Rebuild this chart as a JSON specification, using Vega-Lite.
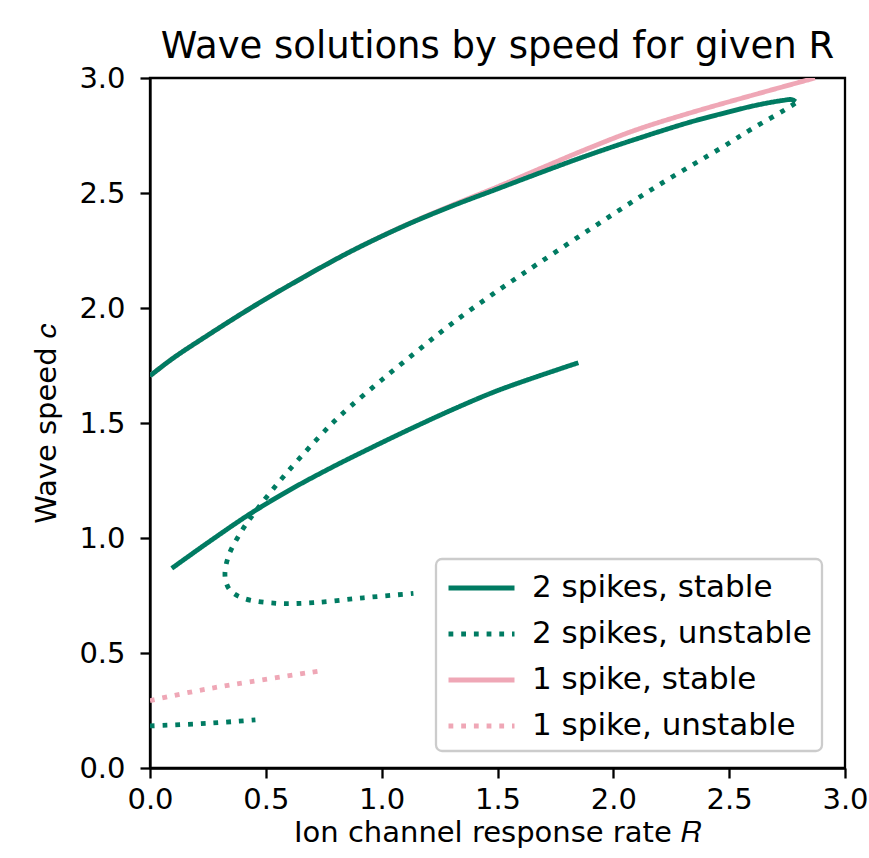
{
  "$schema": "https://vega.github.io/schema/vega-lite/v6.json",
  "width": 695,
  "height": 690,
  "autosize": {"type": "none"},
  "padding": {"left": 150, "top": 78, "right": 24, "bottom": 90},
  "title": {"text": "Wave solutions by speed for given R", "fontSize": 37, "font": "DejaVu Sans", "fontWeight": "normal", "color": "black", "offset": -2},
  "config": {
    "font": "DejaVu Sans",
    "view": {"stroke": "black", "strokeWidth": 2.3},
    "axis": {"grid": false, "domainColor": "black", "domainWidth": 2.3, "tickColor": "black", "tickWidth": 2.3, "tickSize": 10, "labelColor": "black", "labelFontSize": 29, "labelFont": "DejaVu Sans", "titleFont": "DejaVu Sans", "titleFontSize": 29, "titleFontWeight": "normal", "titleColor": "black"},
    "legend": {"orient": "none", "legendX": 286, "legendY": 481, "symbolType": "M-1,0H3", "symbolStrokeWidth": 4.8, "symbolSize": 1089, "labelFontSize": 31, "labelFont": "DejaVu Sans", "labelColor": "black", "fillColor": "white", "strokeColor": "#cccccc", "strokeWidth": 2.3, "cornerRadius": 6, "padding": 10, "rowPadding": 12, "labelOffset": 48, "labelLimit": 500}
  },
  "data": {"values": [
    {"s": "1 spike, stable", "g": "p1", "i": 0, "R": 0, "c": 1.705},
    {"s": "1 spike, stable", "g": "p1", "i": 1, "R": 0.1, "c": 1.782},
    {"s": "1 spike, stable", "g": "p1", "i": 2, "R": 0.25, "c": 1.882},
    {"s": "1 spike, stable", "g": "p1", "i": 3, "R": 0.432, "c": 1.998},
    {"s": "1 spike, stable", "g": "p1", "i": 4, "R": 0.6, "c": 2.098},
    {"s": "1 spike, stable", "g": "p1", "i": 5, "R": 0.863, "c": 2.244},
    {"s": "1 spike, stable", "g": "p1", "i": 6, "R": 1.1, "c": 2.359},
    {"s": "1 spike, stable", "g": "p1", "i": 7, "R": 1.295, "c": 2.443},
    {"s": "1 spike, stable", "g": "p1", "i": 8, "R": 1.5, "c": 2.527},
    {"s": "1 spike, stable", "g": "p1", "i": 9, "R": 1.7, "c": 2.613},
    {"s": "1 spike, stable", "g": "p1", "i": 10, "R": 1.899, "c": 2.697},
    {"s": "1 spike, stable", "g": "p1", "i": 11, "R": 2.1, "c": 2.775},
    {"s": "1 spike, stable", "g": "p1", "i": 12, "R": 2.331, "c": 2.848},
    {"s": "1 spike, stable", "g": "p1", "i": 13, "R": 2.6, "c": 2.925},
    {"s": "1 spike, stable", "g": "p1", "i": 14, "R": 2.87, "c": 3.0},
    {"s": "1 spike, unstable", "g": "p2", "i": 0, "R": 0, "c": 0.293},
    {"s": "1 spike, unstable", "g": "p2", "i": 1, "R": 0.2, "c": 0.335},
    {"s": "1 spike, unstable", "g": "p2", "i": 2, "R": 0.389, "c": 0.368},
    {"s": "1 spike, unstable", "g": "p2", "i": 3, "R": 0.741, "c": 0.423},
    {"s": "2 spikes, stable", "g": "a", "i": 0, "R": 0, "c": 1.705},
    {"s": "2 spikes, stable", "g": "a", "i": 1, "R": 0.1, "c": 1.782},
    {"s": "2 spikes, stable", "g": "a", "i": 2, "R": 0.25, "c": 1.882},
    {"s": "2 spikes, stable", "g": "a", "i": 3, "R": 0.432, "c": 1.998},
    {"s": "2 spikes, stable", "g": "a", "i": 4, "R": 0.6, "c": 2.098},
    {"s": "2 spikes, stable", "g": "a", "i": 5, "R": 0.863, "c": 2.244},
    {"s": "2 spikes, stable", "g": "a", "i": 6, "R": 1.1, "c": 2.358},
    {"s": "2 spikes, stable", "g": "a", "i": 7, "R": 1.295, "c": 2.44},
    {"s": "2 spikes, stable", "g": "a", "i": 8, "R": 1.5, "c": 2.518},
    {"s": "2 spikes, stable", "g": "a", "i": 9, "R": 1.7, "c": 2.594},
    {"s": "2 spikes, stable", "g": "a", "i": 10, "R": 1.899, "c": 2.667},
    {"s": "2 spikes, stable", "g": "a", "i": 11, "R": 2.1, "c": 2.735},
    {"s": "2 spikes, stable", "g": "a", "i": 12, "R": 2.331, "c": 2.808},
    {"s": "2 spikes, stable", "g": "a", "i": 13, "R": 2.5, "c": 2.853},
    {"s": "2 spikes, stable", "g": "a", "i": 14, "R": 2.619, "c": 2.882},
    {"s": "2 spikes, stable", "g": "a", "i": 15, "R": 2.734, "c": 2.903},
    {"s": "2 spikes, stable", "g": "a", "i": 16, "R": 2.77, "c": 2.906},
    {"s": "2 spikes, stable", "g": "a", "i": 17, "R": 2.787, "c": 2.897},
    {"s": "2 spikes, stable", "g": "c", "i": 0, "R": 0.094, "c": 0.868},
    {"s": "2 spikes, stable", "g": "c", "i": 1, "R": 0.25, "c": 0.98},
    {"s": "2 spikes, stable", "g": "c", "i": 2, "R": 0.432, "c": 1.105},
    {"s": "2 spikes, stable", "g": "c", "i": 3, "R": 0.6, "c": 1.207},
    {"s": "2 spikes, stable", "g": "c", "i": 4, "R": 0.777, "c": 1.303},
    {"s": "2 spikes, stable", "g": "c", "i": 5, "R": 0.95, "c": 1.39},
    {"s": "2 spikes, stable", "g": "c", "i": 6, "R": 1.151, "c": 1.487},
    {"s": "2 spikes, stable", "g": "c", "i": 7, "R": 1.33, "c": 1.569},
    {"s": "2 spikes, stable", "g": "c", "i": 8, "R": 1.511, "c": 1.645},
    {"s": "2 spikes, stable", "g": "c", "i": 9, "R": 1.849, "c": 1.762},
    {"s": "2 spikes, unstable", "g": "b", "i": 0, "R": 2.785, "c": 2.89},
    {"s": "2 spikes, unstable", "g": "b", "i": 1, "R": 2.741, "c": 2.862},
    {"s": "2 spikes, unstable", "g": "b", "i": 2, "R": 2.6, "c": 2.78},
    {"s": "2 spikes, unstable", "g": "b", "i": 3, "R": 2.475, "c": 2.702},
    {"s": "2 spikes, unstable", "g": "b", "i": 4, "R": 2.187, "c": 2.529},
    {"s": "2 spikes, unstable", "g": "b", "i": 5, "R": 1.899, "c": 2.342},
    {"s": "2 spikes, unstable", "g": "b", "i": 6, "R": 1.611, "c": 2.15},
    {"s": "2 spikes, unstable", "g": "b", "i": 7, "R": 1.482, "c": 2.062},
    {"s": "2 spikes, unstable", "g": "b", "i": 8, "R": 1.3, "c": 1.93},
    {"s": "2 spikes, unstable", "g": "b", "i": 9, "R": 1.15, "c": 1.81},
    {"s": "2 spikes, unstable", "g": "b", "i": 10, "R": 1.0, "c": 1.687},
    {"s": "2 spikes, unstable", "g": "b", "i": 11, "R": 0.863, "c": 1.57},
    {"s": "2 spikes, unstable", "g": "b", "i": 12, "R": 0.777, "c": 1.489},
    {"s": "2 spikes, unstable", "g": "b", "i": 13, "R": 0.59, "c": 1.283},
    {"s": "2 spikes, unstable", "g": "b", "i": 14, "R": 0.46, "c": 1.122},
    {"s": "2 spikes, unstable", "g": "b", "i": 15, "R": 0.389, "c": 1.02},
    {"s": "2 spikes, unstable", "g": "b", "i": 16, "R": 0.338, "c": 0.919},
    {"s": "2 spikes, unstable", "g": "b", "i": 17, "R": 0.324, "c": 0.832},
    {"s": "2 spikes, unstable", "g": "b", "i": 18, "R": 0.345, "c": 0.774},
    {"s": "2 spikes, unstable", "g": "b", "i": 19, "R": 0.403, "c": 0.738},
    {"s": "2 spikes, unstable", "g": "b", "i": 20, "R": 0.547, "c": 0.716},
    {"s": "2 spikes, unstable", "g": "b", "i": 21, "R": 0.705, "c": 0.719},
    {"s": "2 spikes, unstable", "g": "b", "i": 22, "R": 0.921, "c": 0.74},
    {"s": "2 spikes, unstable", "g": "b", "i": 23, "R": 1.137, "c": 0.759},
    {"s": "2 spikes, unstable", "g": "d", "i": 0, "R": 0, "c": 0.183},
    {"s": "2 spikes, unstable", "g": "d", "i": 1, "R": 0.245, "c": 0.194},
    {"s": "2 spikes, unstable", "g": "d", "i": 2, "R": 0.455, "c": 0.209}
  ]},
  "mark": {"type": "line", "strokeWidth": 4.8, "strokeCap": "butt", "clip": true, "interpolate": "catmull-rom"},
  "encoding": {
    "x": {"field": "R", "type": "quantitative", "scale": {"domain": [0, 3], "nice": false, "zero": false},
      "axis": {"values": [0, 0.5, 1, 1.5, 2, 2.5, 3], "format": ".1f", "labelPadding": 7, "titlePadding": 4, "labelFlush": false},
      "title": "Ion channel response rate 𝑅"},
    "y": {"field": "c", "type": "quantitative", "scale": {"domain": [0, 3], "nice": false, "zero": false},
      "axis": {"values": [0, 0.5, 1, 1.5, 2, 2.5, 3], "format": ".1f", "labelPadding": 15, "titlePadding": 17, "labelFlush": false},
      "title": "Wave speed 𝑐"},
    "color": {"field": "s", "type": "nominal",
      "scale": {"domain": ["2 spikes, stable", "2 spikes, unstable", "1 spike, stable", "1 spike, unstable"], "range": ["#007b62", "#007b62", "#efa7b6", "#efa7b6"]},
      "legend": {"title": null}},
    "strokeDash": {"field": "s", "type": "nominal",
      "scale": {"domain": ["2 spikes, stable", "2 spikes, unstable", "1 spike, stable", "1 spike, unstable"], "range": [[1, 0], [4.8, 7.9], [1, 0], [4.8, 7.9]]},
      "legend": {"title": null}},
    "detail": {"field": "g"},
    "order": {"field": "i", "type": "quantitative"}
  }
}
